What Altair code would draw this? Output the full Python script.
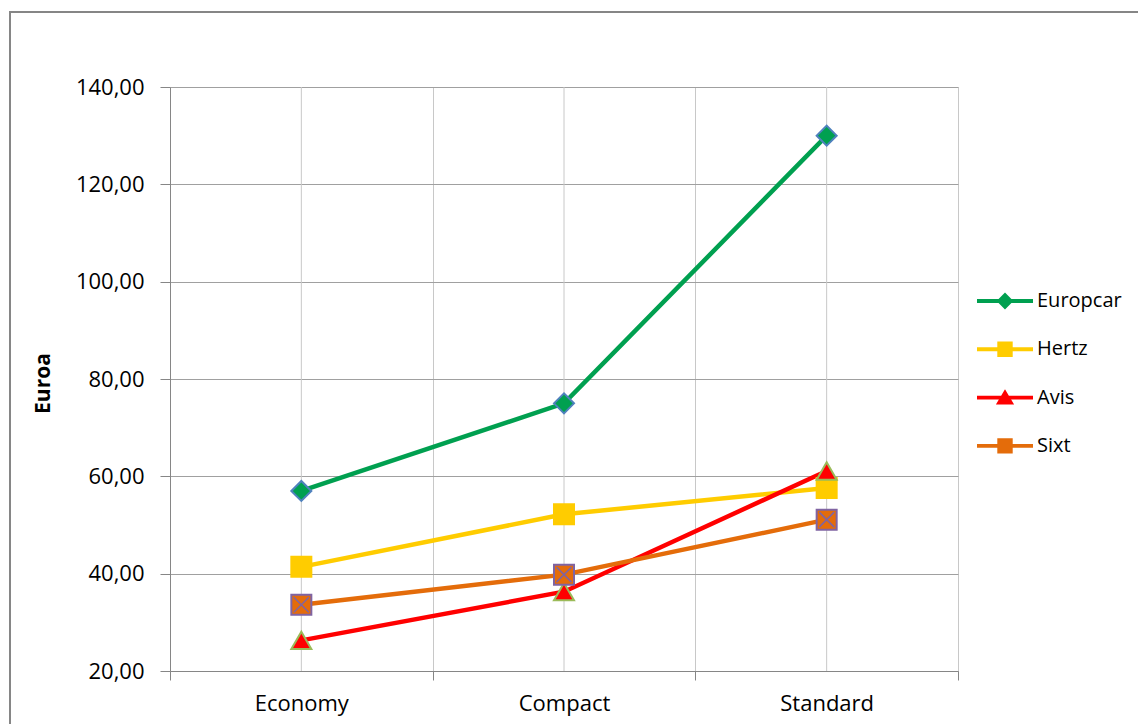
import altair as alt
import pandas as pd

categories = ["Economy", "Compact", "Standard"]
series = ["Europcar", "Hertz", "Avis", "Sixt"]
europcar = [57.0, 75.0, 130.0]
hertz = [41.4, 52.2, 57.6]
avis = [26.3, 36.3, 61.1]
sixt = [33.6, 39.8, 51.1]
y_ticks = [20, 40, 60, 80, 100, 120, 140]

line_colors = ["#00A050", "#FFCC00", "#FF0000", "#E46C0A"]
marker_strokes = ["#4F81BD", "#FFCC00", "#9BBB59", "#8064A2"]
marker_shapes = ["diamond", "square", "triangle-up", "square"]
marker_sizes = [400, 400, 400, 400]
legend_paths = [
    "M-2,-0.14H2V0.14H-2Z M0,-0.6L0.6,0L0,0.6L-0.6,0Z",
    "M-2,-0.14H2V0.14H-2Z M-0.55,-0.55H0.55V0.55H-0.55Z",
    "M-2,-0.14H2V0.14H-2Z M0,-0.6L0.65,0.5H-0.65Z",
    "M-2,-0.14H2V0.14H-2Z M-0.55,-0.55H0.55V0.55H-0.55Z",
]

values = {"Europcar": europcar, "Hertz": hertz, "Avis": avis, "Sixt": sixt}
rows = []
for s in series:
    for c, v in zip(categories, values[s]):
        rows.append({"series": s, "category": c, "value": v})
df = pd.DataFrame(rows)
cat_df = pd.DataFrame({"category": categories})

FONT = "Open Sans"

x_scale = alt.Scale(type="band", domain=categories, paddingInner=0, paddingOuter=0)
x_axis = alt.Axis(
    title=None, tickBand="extent", grid=True, gridColor="#C8C8C8",
    domainColor="#868686", tickColor="#868686", tickSize=9,
    labelFont=FONT, labelFontSize=22, labelColor="#000000",
    labelPadding=13, labelAngle=0,
)
y_axis = alt.Axis(
    values=y_ticks,
    labelExpr="replace(format(datum.value, '.2f'), '.', ',')",
    grid=True, gridColor="#A0A0A0", domainColor="#868686", tickColor="#868686",
    tickSize=10, labelPadding=16, labelFont=FONT, labelFontSize=22,
    labelColor="#000000",
    title="Euroa", titleFont=FONT, titleFontSize=21, titleFontWeight="bold",
    titleColor="#000000", titleX=-127, titleY=296, titleAngle=270,
    titleBaseline="middle", titleAlign="center",
)
x_enc = alt.X("category:N", scale=x_scale, sort=categories, axis=x_axis)
y_enc = alt.Y("value:Q", scale=alt.Scale(domain=[20, 140], nice=False, zero=False), axis=y_axis)

border = alt.Chart(pd.DataFrame({"a": [0]})).mark_rect(
    fill=None, stroke="#868686", strokeWidth=2
).encode(
    x=alt.value(-160), y=alt.value(-75), x2=alt.value(1000), y2=alt.value(700)
)

center_rules = alt.Chart(cat_df).mark_rule(color="#C8C8C8", strokeWidth=1).encode(
    x=alt.X("category:N", scale=x_scale, sort=categories, axis=x_axis)
)

lines = alt.Chart(df).mark_line(strokeWidth=4.5).encode(
    x=x_enc, y=y_enc,
    stroke=alt.Stroke("series:N", scale=alt.Scale(domain=series, range=line_colors), legend=None),
    detail="series:N",
)

point_layers = []
for i, s in enumerate(series):
    point_layers.append(
        alt.Chart(df).transform_filter(alt.datum.series == s).mark_point(
            shape=marker_shapes[i], filled=True, fill=line_colors[i],
            stroke=marker_strokes[i], strokeWidth=2, size=marker_sizes[i], opacity=1
        ).encode(x=x_enc, y=y_enc)
    )

sixt_x = alt.Chart(df).transform_filter(alt.datum.series == "Sixt").mark_point(
    shape="M-0.75,-0.75L0.75,0.75M-0.75,0.75L0.75,-0.75", filled=False,
    stroke="#8064A2", strokeWidth=1.5, size=400, opacity=1
).encode(x=x_enc, y=y_enc)

legend = alt.Legend(
    title=None, orient="none", legendX=821, legendY=200, symbolSize=784,
    rowPadding=24.3, labelOffset=18, labelFont=FONT, labelFontSize=20,
    labelColor="#000000", symbolOpacity=1, symbolStrokeWidth=0, padding=0,
    labelLimit=300,
)
legend_layer = alt.Chart(df).mark_point(filled=True, size=0).encode(
    x=x_enc, y=y_enc,
    shape=alt.Shape("series:N", scale=alt.Scale(domain=series, range=legend_paths), legend=legend),
    fill=alt.Fill("series:N", scale=alt.Scale(domain=series, range=line_colors), legend=legend),
)

chart = alt.layer(
    legend_layer, border, center_rules, lines, *point_layers, sixt_x
).properties(
    width=788, height=584,
    autosize=alt.AutoSizeParams(type="none"),
    padding={"left": 170, "top": 87, "right": 180, "bottom": 53},
).configure_view(stroke=None).configure(background="white")

chart.save("out.html", embed_options={"renderer": "svg", "actions": False})
